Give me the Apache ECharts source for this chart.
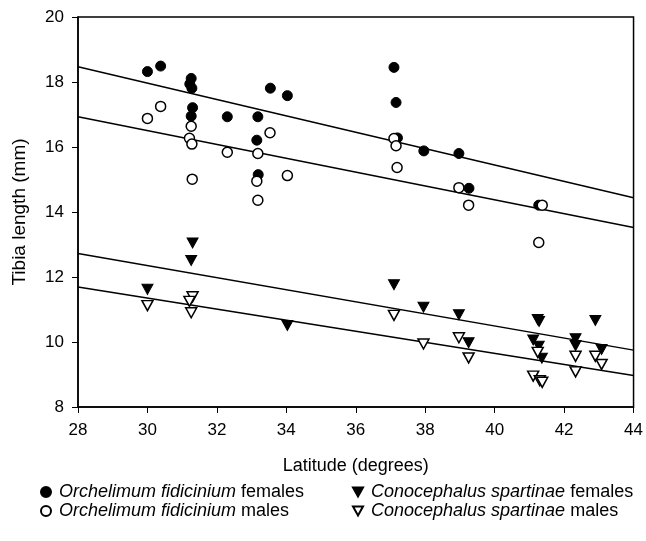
<!DOCTYPE html>
<html>
<head>
<meta charset="utf-8">
<script src="https://cdn.jsdelivr.net/npm/echarts@6/dist/echarts.min.js"></script>
<style>
  html, body { margin: 0; padding: 0; background: #fff; }
  #chart { width: 646px; height: 541px; }
</style>
</head>
<body>
<div id="chart"></div>
<script>
// values: [latitude, tibia length]
var ofFemales = [
  [30.00, 18.32], [30.38, 18.49], [31.26, 18.11], [31.22, 17.94], [31.28, 17.81],
  [31.30, 17.21], [31.26, 16.95], [32.30, 16.93], [33.18, 16.93], [33.15, 16.21],
  [33.19, 15.15], [33.54, 17.81], [34.03, 17.58], [37.10, 18.45], [37.16, 17.37],
  [37.20, 16.28], [37.96, 15.88], [38.97, 15.80], [39.26, 14.73], [41.27, 14.21]
];
var ofMales = [
  [30.00, 16.88], [30.38, 17.25], [31.26, 16.64], [31.21, 16.27], [31.28, 16.09],
  [31.29, 15.01], [32.30, 15.84], [33.18, 15.80], [33.15, 14.95], [33.18, 14.36],
  [33.53, 16.44], [34.03, 15.12], [37.10, 16.26], [37.16, 16.04], [37.19, 15.37],
  [38.97, 14.75], [39.25, 14.21], [41.37, 14.21], [41.27, 13.06]
];
var csFemales = [
  [31.30, 13.05], [31.26, 12.51], [30.00, 11.62], [34.03, 10.51], [37.10, 11.76],
  [37.95, 11.07], [38.97, 10.84], [39.25, 9.98], [41.24, 10.69], [41.28, 10.63],
  [41.11, 10.06], [41.27, 9.87], [41.36, 9.50], [42.33, 10.10], [42.33, 9.89],
  [42.90, 10.66], [43.08, 9.77]
];
var csMales = [
  [30.00, 11.12], [31.30, 11.39], [31.21, 11.25], [31.26, 10.90], [37.10, 10.82],
  [37.95, 9.94], [38.97, 10.13], [39.25, 9.51], [41.24, 9.68], [41.11, 8.95],
  [41.30, 8.81], [41.37, 8.76], [42.33, 9.56], [42.33, 9.08], [42.90, 9.56],
  [43.08, 9.31]
];

// fitted lines, end points at 28 and 44
var fitOfFemales = [[28, 18.47], [44, 14.44]];
var fitOfMales = [[28, 16.93], [44, 13.52]];
var fitCsFemales = [[28, 12.72], [44, 9.75]];
var fitCsMales = [[28, 11.69], [44, 8.97]];

var names = [
  'Orchelimum fidicinium females',
  'Orchelimum fidicinium males',
  'Conocephalus spartinae females',
  'Conocephalus spartinae males'
];

var downTri = 'path://M0,0 L10,0 L5,9 Z';
var font = 'Liberation Sans, Arial, sans-serif';

function legendFmt(name) {
  var parts = name.split(' ');
  return '{i|' + parts[0] + ' ' + parts[1] + '} ' + parts[2];
}
var legendText = {
  color: '#000',
  fontFamily: font,
  fontSize: 18,
  padding: [0, 0, 0, 3],
  rich: {
    i: { fontStyle: 'italic', fontFamily: font, fontSize: 18, color: '#000' }
  }
};

function fitLine(d) {
  return {
    type: 'line',
    data: d,
    symbol: 'none',
    silent: true,
    lineStyle: { color: '#000', width: 1.5 },
    z: 1
  };
}

var chart = echarts.init(document.getElementById('chart'));
chart.setOption({
  animation: false,
  grid: {
    left: 78, right: 9, top: 17, bottom: 134,
    show: true, borderColor: '#000', borderWidth: 1.5
  },
  xAxis: {
    type: 'value',
    min: 28, max: 44, interval: 2,
    name: 'Latitude (degrees)',
    nameLocation: 'middle',
    nameGap: 50,
    nameTextStyle: { color: '#000', fontFamily: font, fontSize: 18 },
    axisLine: { lineStyle: { color: '#000', width: 1.5 } },
    axisTick: { length: 6, lineStyle: { color: '#000' } },
    axisLabel: { color: '#000', fontFamily: font, fontSize: 17, margin: 15 },
    splitLine: { show: false }
  },
  yAxis: {
    type: 'value',
    min: 8, max: 20, interval: 2,
    name: 'Tibia length (mm)',
    nameLocation: 'middle',
    nameGap: 49,
    nameTextStyle: { color: '#000', fontFamily: font, fontSize: 19 },
    axisLine: { show: true, lineStyle: { color: '#000', width: 1.5 } },
    axisTick: { show: true, length: 6, lineStyle: { color: '#000' } },
    axisLabel: { color: '#000', fontFamily: font, fontSize: 17, margin: 14 },
    splitLine: { show: false }
  },
  legend: [
    {
      data: [names[0], names[1]],
      orient: 'vertical',
      left: 35, top: 478,
      itemWidth: 10, itemHeight: 10, itemGap: 1,
      formatter: legendFmt,
      textStyle: legendText
    },
    {
      data: [names[2], names[3]],
      orient: 'vertical',
      left: 347, top: 478,
      itemWidth: 10, itemHeight: 10, itemGap: 1,
      formatter: legendFmt,
      textStyle: legendText
    }
  ],
  series: [
    fitLine(fitOfFemales),
    fitLine(fitOfMales),
    fitLine(fitCsFemales),
    fitLine(fitCsMales),
    {
      name: names[0], type: 'scatter', data: ofFemales,
      symbol: 'circle', symbolSize: 10,
      itemStyle: { color: '#000', borderColor: '#000', borderWidth: 1, opacity: 1 }, z: 3
    },
    {
      name: names[1], type: 'scatter', data: ofMales,
      symbol: 'circle', symbolSize: 10,
      itemStyle: { color: '#fff', borderColor: '#000', borderWidth: 1.5, opacity: 1 }, z: 4
    },
    {
      name: names[2], type: 'scatter', data: csFemales,
      symbol: downTri, symbolSize: [11, 10],
      itemStyle: { color: '#000', borderColor: '#000', borderWidth: 1, opacity: 1 }, z: 3
    },
    {
      name: names[3], type: 'scatter', data: csMales,
      symbol: downTri, symbolSize: [11, 10],
      itemStyle: { color: '#fff', borderColor: '#000', borderWidth: 1.5, opacity: 1 }, z: 4
    }
  ]
});
</script>
</body>
</html>
